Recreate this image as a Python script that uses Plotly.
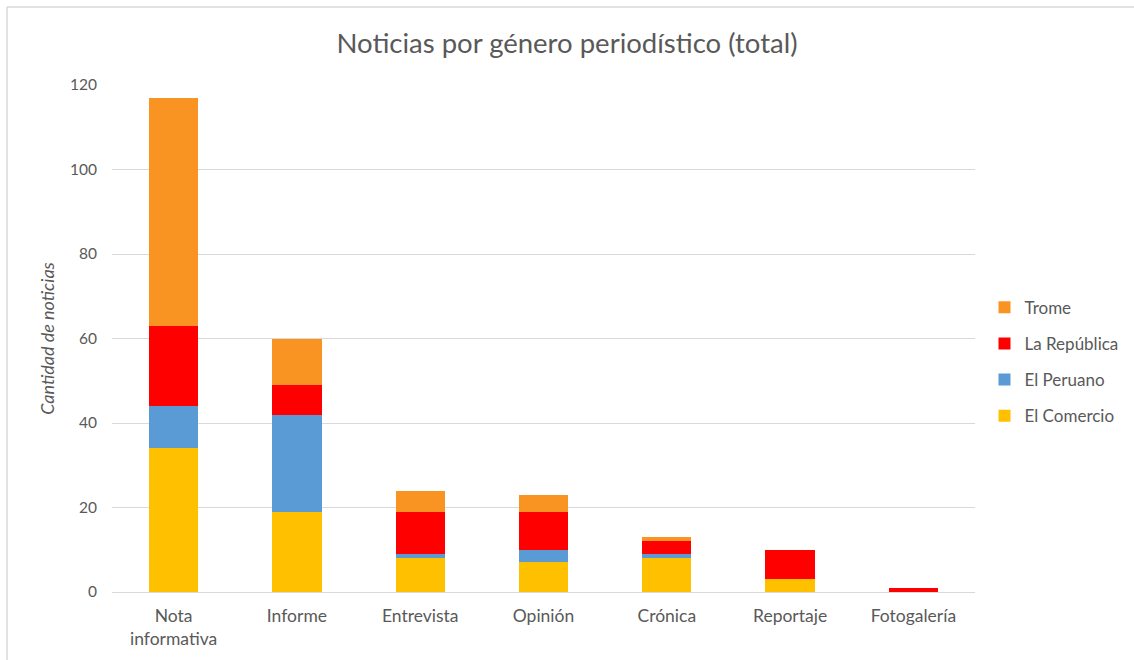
import plotly.graph_objects as go

# Datos
generos = ["Nota<br>informativa", "Informe", "Entrevista", "Opinión", "Crónica", "Reportaje", "Fotogalería"]
el_comercio = [34, 19, 8, 7, 8, 3, 0]
el_peruano = [10, 23, 1, 3, 1, 0, 0]
la_republica = [19, 7, 10, 9, 3, 7, 1]
trome = [54, 11, 5, 4, 1, 0, 0]

series = [
    ("El Comercio", el_comercio, "#FFC000"),
    ("El Peruano", el_peruano, "#5B9BD5"),
    ("La República", la_republica, "#FF0000"),
    ("Trome", trome, "#F99422"),
]

fig = go.Figure()
for i, (nombre, valores, color) in enumerate(series):
    fig.add_trace(go.Bar(
        x=generos, y=valores, name=nombre,
        marker=dict(color=color, line=dict(width=0)),
        legendgroup=nombre,
        legendrank=len(series) - i,  # Trome arriba en la leyenda
    ))

gris = "#595959"
# borde del área del gráfico (solo se ven el lado izquierdo y el superior)
px0 = (7 - 112) / 863
py1 = (592 - 7) / 507
borde = dict(color="#D9D9D9", width=1.5)

fig.update_layout(
    barmode="stack",
    bargap=0.6,
    width=1134, height=660,
    margin=dict(l=112, r=159, t=85, b=68, autoexpand=False),
    paper_bgcolor="white",
    plot_bgcolor="white",
    font=dict(family="Lato, Open Sans, sans-serif", color=gris, size=17),
    title=dict(text="Noticias por género periodístico (total)",
               x=0.5, xanchor="center", y=0.935, yanchor="middle",
               font=dict(size=27.5, color=gris)),
    showlegend=True,
    legend=dict(x=1.011, y=0.454, xanchor="left", yanchor="middle",
                traceorder="grouped", tracegroupgap=11,
                font=dict(size=17, color=gris), itemwidth=30),
    xaxis=dict(showline=True, linecolor="#D9D9D9", linewidth=1, automargin=False,
               ticks="", ticklabelstandoff=8, tickfont=dict(size=17.5, color=gris)),
    yaxis=dict(range=[0, 120], dtick=20, showgrid=True, gridcolor="#D9D9D9",
               zeroline=False, ticks="", automargin=False, ticklabelstandoff=14,
               tickfont=dict(size=15.5, color=gris),
               title=dict(text="<i>Cantidad de noticias</i>", standoff=10,
                          font=dict(size=18, color=gris))),
    shapes=[
        dict(type="line", xref="paper", yref="paper",
             x0=px0, x1=px0, y0=-0.2, y1=py1, line=borde),
        dict(type="line", xref="paper", yref="paper",
             x0=px0, x1=1.2, y0=py1, y1=py1, line=borde),
    ],
)

fig.write_html("out.html", config={"displayModeBar": False},
               post_script="document.body.style.margin='0';")
